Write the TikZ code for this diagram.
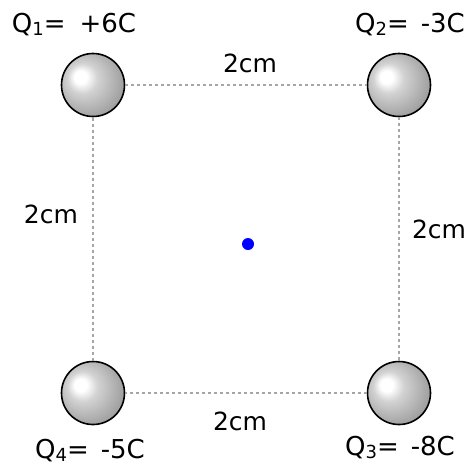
\documentclass[tikz,border=0pt]{standalone}
\usepackage{fontspec}
\setmainfont{DejaVu Sans}
\pgfdeclareradialshading{sphere}{\pgfpoint{-11bp}{7bp}}{%
  color(0bp)=(white); color(5bp)=(white); color(12bp)=(gray!35);
  color(26bp)=(gray!68); color(36bp)=(gray!90); color(50bp)=(gray)}
\newcommand{\qlabel}[3]{Q{\fontsize{18}{20}\selectfont\raisebox{-0.25ex}{#1}}=\hspace{#2}#3}
\begin{document}
\begin{tikzpicture}[x=1pt,y=-1pt,
  charge/.style={circle, draw=black, line width=1.6pt, minimum size=63pt, inner sep=0pt, shading=sphere},
  side/.style={draw=gray!70, line width=2.6pt, dash pattern=on 3pt off 3pt},
  lbl/.style={font=\fontsize{25}{28}\selectfont, inner sep=0pt},
  qlbl/.style={font=\fontsize{26}{30}\selectfont, inner sep=0pt}]
\useasboundingbox (0,0) rectangle (473,467);
\node[charge] (q1) at (93,85) {};
\node[charge] (q2) at (399,85) {};
\node[charge] (q3) at (399,393) {};
\node[charge] (q4) at (93,393) {};
\draw[side] (q1) -- (q2);
\draw[side] (q2) -- (q3);
\draw[side] (q3) -- (q4);
\draw[side] (q4) -- (q1);
\node[qlbl] (lq1) at (74,25) {\qlabel{1}{14pt}{+6C}};
\node[qlbl] (lq2) at (410,25) {\qlabel{2}{12pt}{-3C}};
\node[qlbl] (lq3) at (400,448) {\qlabel{3}{12pt}{-8C}};
\node[qlbl] (lq4) at (90,451) {\qlabel{4}{12pt}{-5C}};
\node[lbl] (dtop) at (250,63) {2cm};
\node[lbl] (dleft) at (51,214) {2cm};
\node[lbl] (dright) at (439,229) {2cm};
\node[lbl] (dbottom) at (240,421) {2cm};
\node[circle, fill=blue, minimum size=12pt, inner sep=0pt] (p) at (248,244) {};
\end{tikzpicture}
\end{document}
